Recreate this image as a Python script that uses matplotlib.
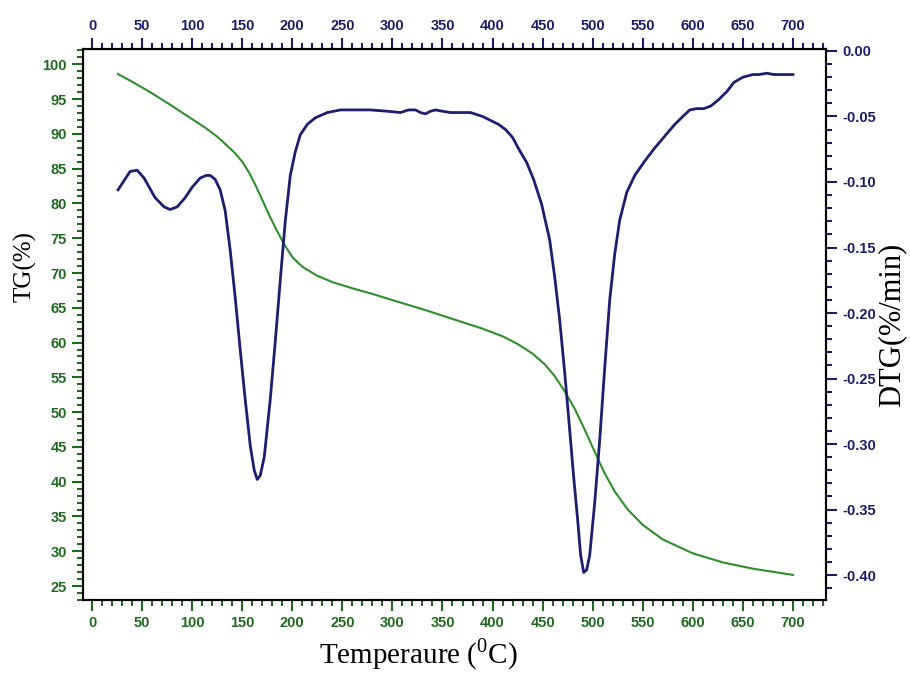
import numpy as np
import matplotlib
matplotlib.use("Agg")
import matplotlib.pyplot as plt
from matplotlib.ticker import MultipleLocator

# TG curve (left axis)
tg_temp = [26, 40, 58, 78, 98, 113, 125, 135, 143, 150, 157, 164, 171, 178,
           185, 192, 200, 210, 225, 240, 260, 280, 300, 330, 360, 390, 410,
           425, 440, 452, 462, 472, 482, 492, 502, 512, 522, 535, 550, 570,
           600, 630, 660, 700]
tg_val = [98.6, 97.5, 96.0, 94.2, 92.3, 90.9, 89.6, 88.3, 87.2, 86.0, 84.4,
          82.4, 80.2, 78.0, 76.0, 74.1, 72.3, 70.9, 69.6, 68.7, 67.8, 67.0,
          66.1, 64.8, 63.4, 62.0, 60.9, 59.8, 58.4, 56.9, 55.2, 53.0, 50.5,
          47.5, 44.3, 41.2, 38.6, 36.0, 33.8, 31.7, 29.7, 28.4, 27.5, 26.6]

# DTG curve (right axis)
dtg_temp = [26, 32, 38, 45, 52, 63, 72, 78, 85, 93, 100, 108, 114, 118, 123,
            128, 133, 138, 143, 148, 153, 158, 162, 165, 168, 172, 178, 183,
            188, 193, 198, 203, 208, 215, 223, 235, 248, 265, 278, 295, 308,
            316, 323, 328, 333, 338, 343, 350, 358, 370, 378, 390, 398, 406,
            413, 420, 427, 434, 441, 449, 457, 462, 467, 472, 477, 481, 485,
            488, 491, 494, 497, 502, 507, 512, 517, 522, 527, 534, 542, 552,
            562, 572, 582, 590, 597, 604, 611, 618, 626, 634, 641, 650, 660,
            666, 674, 681, 690, 700]
dtg_val = [-0.106, -0.099, -0.092, -0.091, -0.097, -0.112, -0.119, -0.121,
           -0.119, -0.112, -0.104, -0.097, -0.095, -0.095, -0.098, -0.106,
           -0.122, -0.152, -0.188, -0.228, -0.266, -0.301, -0.320, -0.327,
           -0.324, -0.310, -0.266, -0.222, -0.175, -0.130, -0.095, -0.077,
           -0.064, -0.056, -0.051, -0.047, -0.045, -0.045, -0.045, -0.046,
           -0.047, -0.045, -0.045, -0.047, -0.048, -0.046, -0.045, -0.046,
           -0.047, -0.047, -0.047, -0.050, -0.053, -0.056, -0.060, -0.066,
           -0.076, -0.085, -0.098, -0.117, -0.144, -0.172, -0.205, -0.245,
           -0.289, -0.325, -0.358, -0.385, -0.398, -0.396, -0.385, -0.345,
           -0.297, -0.242, -0.190, -0.155, -0.129, -0.108, -0.095, -0.084,
           -0.074, -0.065, -0.056, -0.050, -0.045, -0.044, -0.044, -0.042,
           -0.037, -0.031, -0.024, -0.020, -0.018, -0.018, -0.017, -0.018,
           -0.018, -0.018]

green = "#1e6b1e"
navy = "#1c1c6b"
tg_col = "#2f8f2f"
dtg_col = "#1e1e70"

fig = plt.figure(figsize=(9.1, 6.73), dpi=100)
ax = fig.add_axes([0.0912, 0.1085, 0.8165, 0.8187])
ax2 = ax.twinx()

ax.plot(tg_temp, tg_val, color=tg_col, lw=1.5, zorder=3)
ax2.plot(dtg_temp, dtg_val, color=dtg_col, lw=2.0)

ax.set_xlim(-9, 733)
ax.set_ylim(23.0, 102.2)
ax2.set_ylim(-0.419, 0.0015)

ax.xaxis.set_major_locator(MultipleLocator(50))
ax.xaxis.set_minor_locator(MultipleLocator(10))
ax.yaxis.set_major_locator(MultipleLocator(5))
ax.yaxis.set_minor_locator(MultipleLocator(1))
ax2.yaxis.set_major_locator(MultipleLocator(0.05))
ax2.yaxis.set_minor_locator(MultipleLocator(0.01))
ax2.yaxis.set_major_formatter(plt.FormatStrFormatter('%.2f'))

for a in (ax, ax2):
    for s in a.spines.values():
        s.set_linewidth(1.5)
        s.set_color("black")

ax.tick_params(axis="both", which="major", direction="out", length=8, width=1.5,
               color=green, labelcolor=green, labelsize=10.5)
ax.tick_params(axis="both", which="minor", direction="out", length=4.5, width=1.5,
               color=green)
ax2.tick_params(axis="y", which="major", direction="out", length=8, width=1.5,
                color=navy, labelcolor=navy, labelsize=10.5)
ax2.tick_params(axis="y", which="minor", direction="out", length=4.5, width=1.5,
                color=navy)

top = ax.secondary_xaxis("top")
top.xaxis.set_major_locator(MultipleLocator(50))
top.xaxis.set_minor_locator(MultipleLocator(10))
top.tick_params(which="major", direction="out", length=8, width=1.5,
                color=navy, labelcolor=navy, labelsize=10.5)
top.tick_params(which="minor", direction="out", length=4.5, width=1.5, color=navy)

for lab in (ax.get_xticklabels() + ax.get_yticklabels() + ax2.get_yticklabels()
            + top.get_xticklabels()):
    lab.set_fontweight("bold")
    lab.set_family("Liberation Sans")

serif = "Liberation Serif"
ax.set_xlabel(r"Temperaure ($^{\mathregular{0}}$C)", fontsize=21, family=serif)
ax.xaxis.set_label_coords(0.451, -0.066)
ax.set_ylabel("TG(%)", fontsize=18, family=serif)
ax.yaxis.set_label_coords(-0.063, 0.606)
ax2.set_ylabel("DTG(%/min)", fontsize=22, family=serif, labelpad=1)

fig.savefig("out.png", dpi=100, facecolor="white")
